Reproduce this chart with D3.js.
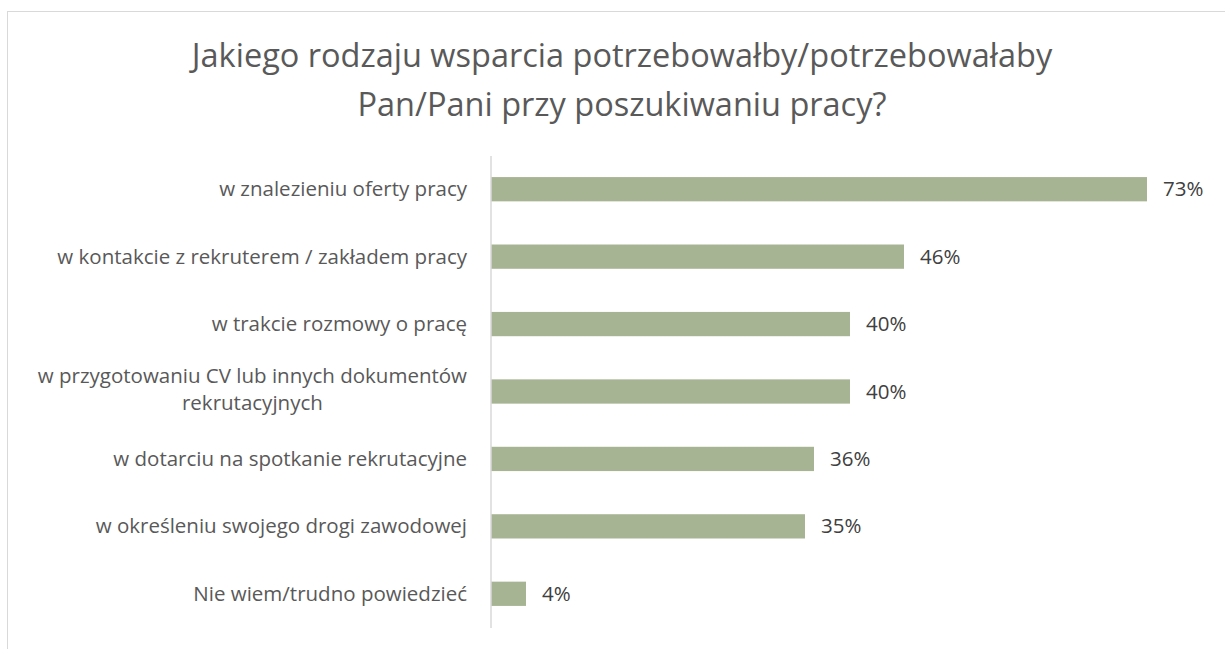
<!DOCTYPE html>
<html><head><meta charset="utf-8">
<script src="https://cdn.jsdelivr.net/npm/d3@7"></script>
<style>
html,body{margin:0;padding:0;background:#fff;}
svg{display:block;font-family:"Open Sans",sans-serif;}
</style></head>
<body><svg id="chart" width="1225" height="649"></svg>
<script>
const titleLines = ["Jakiego rodzaju wsparcia potrzebowałby/potrzebowałaby", "Pan/Pani przy poszukiwaniu pracy?"];
const categories = [
  ["w znalezieniu oferty pracy"],
  ["w kontakcie z rekruterem / zakładem pracy"],
  ["w trakcie rozmowy o pracę"],
  ["w przygotowaniu CV lub innych dokumentów", "rekrutacyjnych"],
  ["w dotarciu na spotkanie rekrutacyjne"],
  ["w określeniu swojego drogi zawodowej"],
  ["Nie wiem/trudno powiedzieć"]
];
const values = [73, 46, 40, 40, 36, 35, 4];
const valueLabels = ["73%", "46%", "40%", "40%", "36%", "35%", "4%"];

const svg = d3.select("#chart");
const labelSize = "20.5px";
// outer border
svg.append("rect").attr("x",7.5).attr("y",11.5).attr("width",1230).attr("height",660)
  .attr("fill","none").attr("stroke","#d9d9d9").attr("stroke-width",1);

// title
const title = svg.append("text").attr("text-anchor","middle").attr("fill","#595959")
  .style("font-size","32.5px");
titleLines.forEach((t,i)=>{
  title.append("tspan").attr("x",622).attr("y",67+i*49).text(t);
});

const x0 = 490;
const x = d3.scaleLinear().domain([0,80]).range([x0, 1210]);
const idx = d3.range(categories.length);
const y = d3.scaleBand().domain(idx).range([155.5, 627.5]).paddingInner(0.64).paddingOuter(0.32);

svg.selectAll("rect.bar").data(idx).join("rect").attr("class","bar")
  .attr("x", x(0)+1).attr("y", d=>y(d)).attr("height", y.bandwidth())
  .attr("width", d=>x(values[d])-x(0)-1).attr("fill","#a6b493");

// axis line
const axis = d3.axisLeft(y).tickSize(0).tickFormat("");
const ag = svg.append("g").attr("transform",`translate(${x0+0.5},0)`).call(axis);
ag.select(".domain").attr("stroke","#d9d9d9").attr("stroke-width",1.5);

// category labels
idx.forEach(d=>{
  const lines = categories[d];
  const cy = y(d)+y.bandwidth()/2;
  const lh = 27;
  const t = svg.append("text").attr("fill","#595959").style("font-size",labelSize);
  if(lines.length===1){
    t.attr("text-anchor","end").append("tspan").attr("x",467).attr("y",cy+7).text(lines[0]);
  } else {
    t.attr("text-anchor","middle");
    const tmp = svg.append("text").style("font-size",labelSize).text(lines[0]);
    const w = tmp.node().getComputedTextLength(); tmp.remove();
    const cx = 467 - w/2;
    lines.forEach((l,i)=>{
      t.append("tspan").attr("x",cx).attr("y",cy+5+(i-(lines.length-1)/2)*lh).text(l);
    });
  }
});

// value labels
svg.selectAll("text.val").data(idx).join("text").attr("class","val")
  .attr("x", d=>x(values[d])+16).attr("y", d=>y(d)+y.bandwidth()/2+7)
  .attr("fill","#404040").style("font-size",labelSize).text(d=>valueLabels[d]);
</script></body></html>
